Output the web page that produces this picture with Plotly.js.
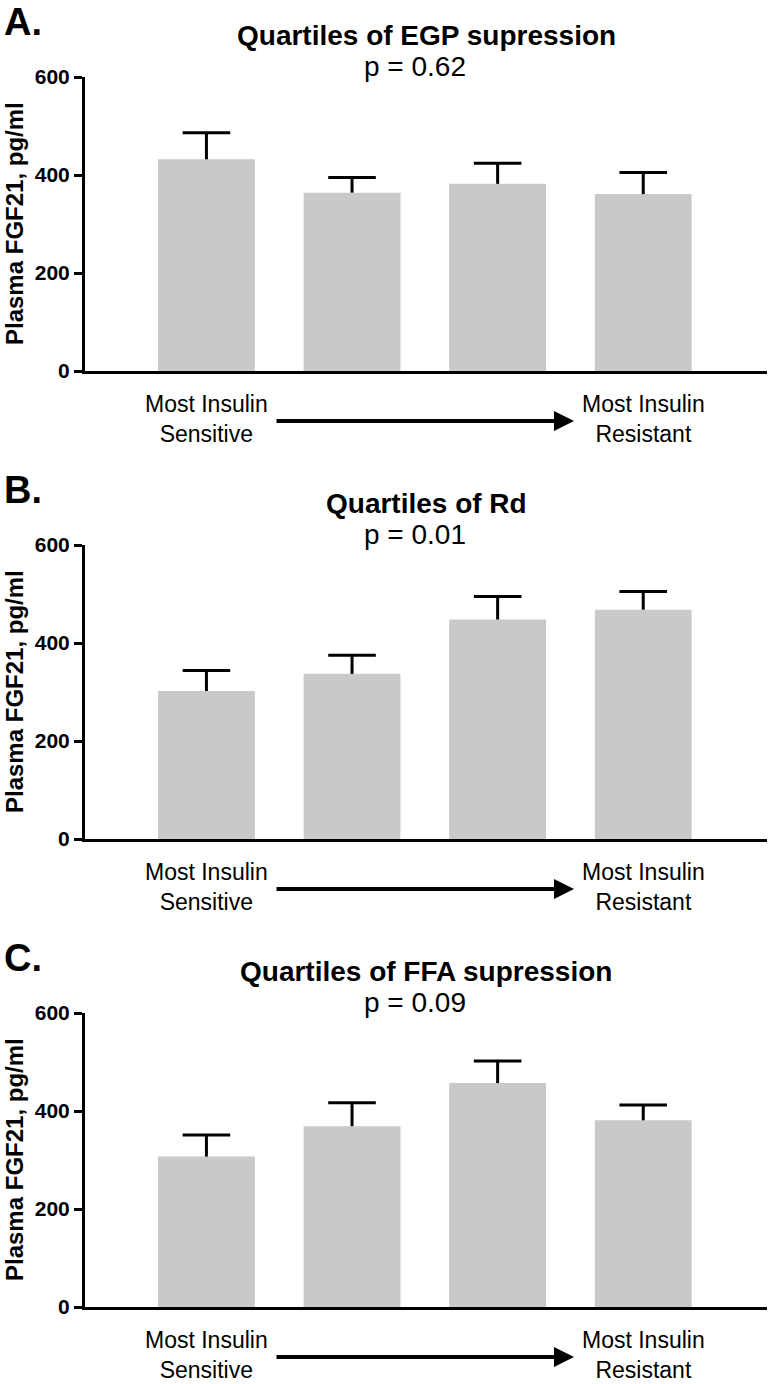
<!DOCTYPE html>
<html>
<head>
<meta charset="utf-8">
<script src="https://cdn.plot.ly/plotly-3.0.1.min.js"></script>
<style>html,body{margin:0;padding:0;background:#fff;}#chart{width:773px;height:1384px;}</style>
</head>
<body>
<div id="chart"></div>
<script>
// ---- data ----
const quartiles = ['Q1', 'Q2', 'Q3', 'Q4'];
const egpMeans = [432, 364, 382, 361];
const egpSEM   = [54, 31, 42, 44];
const rdMeans  = [302, 337, 448, 468];
const rdSEM    = [42, 38, 47, 37];
const ffaMeans = [307, 369, 457, 381];
const ffaSEM   = [44, 48, 45, 31];
const panelLabels = ['A.', 'B.', 'C.'];
const panelTitles = ['Quartiles of EGP supression', 'Quartiles of Rd', 'Quartiles of FFA supression'];
const pValues = ['p = 0.62', 'p = 0.01', 'p = 0.09'];
const yTickVals = [0, 200, 400, 600];
const yTitle = 'Plasma FGF21, pg/ml';
const leftLabel = 'Most Insulin<br>Sensitive';
const rightLabel = 'Most Insulin<br>Resistant';

const means = [egpMeans, rdMeans, ffaMeans];
const sems = [egpSEM, rdSEM, ffaSEM];

// ---- layout helpers (pixel -> paper) ----
const W = 773, H = 1384;
const px = x => x / W;
const py = y => 1 - y / H;
const STEP = 468;
const FONT = 'Liberation Sans, Arial, sans-serif';

const data = [];
const layout = {
  width: W, height: H,
  margin: {l: 0, r: 0, t: 0, b: 0},
  paper_bgcolor: '#fff', plot_bgcolor: 'rgba(0,0,0,0)',
  showlegend: false,
  font: {family: FONT, color: '#000'},
  annotations: [],
  shapes: []
};

for (let i = 0; i < 3; i++) {
  const off = STEP * i;
  const sfx = i === 0 ? '' : String(i + 1);
  // bars with upward-only error stems (no caps)
  data.push({
    type: 'bar',
    x: quartiles,
    y: means[i],
    width: 0.665,
    xaxis: 'x' + sfx, yaxis: 'y' + sfx,
    marker: {color: '#c9c9c9', line: {width: 0}},
    error_y: {
      type: 'data', symmetric: false,
      array: sems[i], arrayminus: sems[i].map(() => 0),
      color: '#000', thickness: 3, width: 0
    },
    hoverinfo: 'skip'
  });
  // top caps of the error bars
  data.push({
    type: 'scatter', mode: 'markers',
    x: quartiles,
    y: means[i].map((m, k) => m + sems[i][k]),
    xaxis: 'x' + sfx, yaxis: 'y' + sfx,
    marker: {symbol: 'line-ew', size: 34, color: '#000', line: {color: '#000', width: 3}},
    hoverinfo: 'skip', cliponaxis: false
  });
  layout['xaxis' + sfx] = {
    domain: [px(85), px(767)],
    anchor: 'y' + sfx,
    type: 'category',
    range: [-0.834, 3.85],
    showline: true, linecolor: '#000', linewidth: 3,
    showgrid: false, zeroline: false,
    ticks: '', showticklabels: false, fixedrange: true
  };
  layout['yaxis' + sfx] = {
    domain: [py(371 + off), py(77 + off)],
    anchor: 'x' + sfx,
    range: [0, 600],
    tickvals: yTickVals,
    ticktext: yTickVals.map(String),
    ticks: 'outside', ticklen: 8, tickwidth: 3, tickcolor: '#000',
    tickfont: {family: FONT, size: 21, color: '#000', weight: 'bold'},
    showline: true, linecolor: '#000', linewidth: 3,
    showgrid: false, zeroline: false, fixedrange: true
  };
  const A = layout.annotations;
  A.push({xref: 'paper', yref: 'paper', x: px(2), y: py(22 + off), xanchor: 'left', yanchor: 'middle',
    text: '<b>' + panelLabels[i] + '</b>', showarrow: false,
    font: {family: FONT, size: 38, color: '#000'}});
  A.push({xref: 'paper', yref: 'paper', x: px(426), y: py(35 + off), xanchor: 'center', yanchor: 'middle',
    text: '<b>' + panelTitles[i] + '</b>', showarrow: false,
    font: {family: FONT, size: 28, color: '#000'}});
  A.push({xref: 'paper', yref: 'paper', x: px(415), y: py(66 + off), xanchor: 'center', yanchor: 'middle',
    text: pValues[i], showarrow: false,
    font: {family: FONT, size: 28, color: '#000'}});
  A.push({xref: 'paper', yref: 'paper', x: px(14), y: py(224 + off), xanchor: 'center', yanchor: 'middle',
    text: '<b>' + yTitle + '</b>', textangle: -90, showarrow: false,
    font: {family: FONT, size: 24, color: '#000'}});
  A.push({xref: 'paper', yref: 'paper', x: px(206), y: py(419 + off), xanchor: 'center', yanchor: 'middle',
    text: leftLabel, showarrow: false,
    font: {family: FONT, size: 23, color: '#000'}});
  A.push({xref: 'paper', yref: 'paper', x: px(643), y: py(419 + off), xanchor: 'center', yanchor: 'middle',
    text: rightLabel, showarrow: false,
    font: {family: FONT, size: 23, color: '#000'}});
  A.push({xref: 'paper', yref: 'paper', x: px(574), y: py(421 + off),
    ax: -299, ay: 0, text: '', showarrow: true,
    arrowhead: 2, arrowsize: 1, arrowwidth: 4, arrowcolor: '#000', standoff: 0, startstandoff: 0});
}

Plotly.newPlot('chart', data, layout, {staticPlot: true, displayModeBar: false});
</script>
</body>
</html>
